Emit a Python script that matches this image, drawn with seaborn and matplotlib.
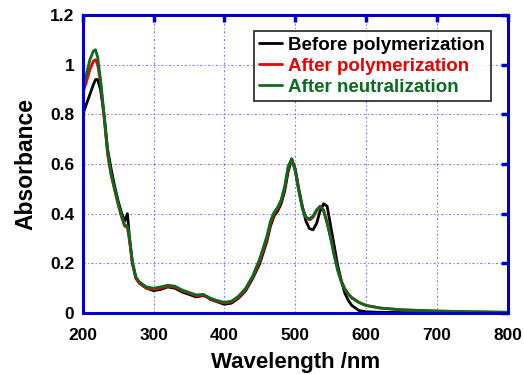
import numpy as np
import pandas as pd
import matplotlib
matplotlib.use("Agg")
import matplotlib.pyplot as plt
import seaborn as sns

# UV-vis absorption spectra
wavelength = [200, 205, 210, 215, 218, 221, 225, 230, 235, 240, 245, 250, 255, 259,
              263, 266, 270, 275, 280, 290, 300, 310, 320, 330, 340, 350, 360, 370,
              375, 380, 390, 400, 410, 420, 430, 440, 450, 460, 465, 470, 475, 480,
              485, 490, 495, 500, 505, 510, 515, 520, 525, 530, 535, 540, 545, 550,
              555, 560, 565, 570, 575, 580, 590, 600, 620, 650, 700, 750, 800]

before_poly = [0.80, 0.84, 0.88, 0.92, 0.94, 0.94, 0.90, 0.80, 0.66, 0.58, 0.51, 0.45,
               0.40, 0.37, 0.40, 0.30, 0.20, 0.14, 0.12, 0.10, 0.09, 0.095, 0.105, 0.10,
               0.085, 0.075, 0.065, 0.07, 0.065, 0.055, 0.045, 0.035, 0.04, 0.06, 0.09,
               0.14, 0.20, 0.29, 0.35, 0.39, 0.41, 0.44, 0.49, 0.57, 0.62, 0.58, 0.50,
               0.43, 0.37, 0.34, 0.335, 0.36, 0.41, 0.44, 0.43, 0.35, 0.27, 0.19, 0.13,
               0.08, 0.05, 0.03, 0.01, 0.005, 0.003, 0.002, 0.001, 0.001, 0.0]

after_poly = [0.886, 0.93, 0.98, 1.015, 1.02, 1.0, 0.93, 0.79, 0.64, 0.555, 0.495, 0.435,
              0.385, 0.35, 0.345, 0.29, 0.20, 0.14, 0.12, 0.10, 0.095, 0.10, 0.108, 0.104,
              0.09, 0.08, 0.07, 0.072, 0.065, 0.057, 0.047, 0.04, 0.045, 0.063, 0.095,
              0.145, 0.21, 0.30, 0.36, 0.40, 0.42, 0.45, 0.50, 0.585, 0.62, 0.575, 0.495,
              0.425, 0.385, 0.375, 0.385, 0.41, 0.43, 0.415, 0.365, 0.305, 0.235, 0.175,
              0.13, 0.098, 0.077, 0.062, 0.043, 0.031, 0.02, 0.013, 0.008, 0.005, 0.003]

after_neut = [0.905, 0.96, 1.02, 1.055, 1.06, 1.03, 0.94, 0.80, 0.65, 0.56, 0.50, 0.44,
              0.39, 0.355, 0.35, 0.30, 0.21, 0.145, 0.125, 0.105, 0.10, 0.105, 0.112, 0.108,
              0.093, 0.083, 0.073, 0.075, 0.068, 0.06, 0.05, 0.043, 0.048, 0.068, 0.10,
              0.15, 0.22, 0.31, 0.37, 0.405, 0.425, 0.455, 0.51, 0.59, 0.62, 0.57, 0.49,
              0.42, 0.385, 0.38, 0.39, 0.415, 0.43, 0.41, 0.36, 0.30, 0.23, 0.17, 0.125,
              0.095, 0.075, 0.06, 0.042, 0.03, 0.02, 0.013, 0.008, 0.005, 0.003]

labels = ["Before polymerization", "After polymerization", "After neutralization"]
colors = ["#000000", "#ee0000", "#0b6b20"]

x_ticks = [200, 300, 400, 500, 600, 700, 800]
y_ticks = [0, 0.2, 0.4, 0.6, 0.8, 1.0, 1.2]
y_tick_labels = ["0", "0.2", "0.4", "0.6", "0.8", "1", "1.2"]

df = pd.concat([
    pd.DataFrame({"Wavelength": wavelength, "Absorbance": vals, "Sample": name})
    for name, vals in zip(labels, [before_poly, after_poly, after_neut])
], ignore_index=True)

sns.set_style("white")
plt.rcParams["font.family"] = ["Liberation Sans", "DejaVu Sans"]
plt.rcParams["font.weight"] = "bold"
plt.rcParams["text.color"] = "black"
plt.rcParams["axes.labelcolor"] = "black"
plt.rcParams["xtick.labelcolor"] = "black"
plt.rcParams["ytick.labelcolor"] = "black"

fig = plt.figure(figsize=(5.24, 3.74), dpi=100)
ax = fig.add_axes([0.158, 0.163, 0.811, 0.797])

sns.lineplot(data=df, x="Wavelength", y="Absorbance", hue="Sample",
             hue_order=labels, palette=dict(zip(labels, colors)),
             linewidth=2.0, estimator=None, sort=False, ax=ax)

ax.set_xlim(200, 800)
ax.set_ylim(0, 1.2)
ax.set_xticks(x_ticks)
ax.set_xticklabels([str(t) for t in x_ticks], fontsize=12.5, fontweight="bold",
                   color="black")
ax.set_yticks(y_ticks)
ax.set_yticklabels(y_tick_labels, fontsize=12.5, fontweight="bold", color="black")

blue = "#0000cc"
for side in ["left", "right", "top", "bottom"]:
    ax.spines[side].set_visible(True)
    ax.spines[side].set_color(blue)
    ax.spines[side].set_linewidth(2.2)
ax.tick_params(axis="both", which="major", direction="in", length=5, width=2.5,
               color=blue, top=True, right=True)
ax.tick_params(axis="x", pad=11)
ax.tick_params(axis="y", pad=6)

ax.grid(True, color="#4a4ae0", linestyle=(0, (2, 2, 1, 2)), linewidth=0.8, alpha=0.7)
ax.set_axisbelow(True)

ax.set_xlabel("Wavelength /nm", fontsize=16, fontweight="bold", labelpad=6,
              color="black")
ax.set_ylabel("Absorbance", fontsize=16.5, fontweight="bold", labelpad=9,
              color="black")

leg = ax.legend(loc="upper right", bbox_to_anchor=(0.96, 0.946), borderaxespad=0,
                frameon=True, fancybox=False, prop={"size": 13.5, "weight": "bold"},
                handlelength=1.2, handletextpad=0.35, labelspacing=0.2, borderpad=0.3)
leg.get_frame().set_edgecolor("black")
leg.get_frame().set_linewidth(1.3)
for txt, c in zip(leg.get_texts(), colors):
    txt.set_color(c)
for ln in leg.get_lines():
    ln.set_linewidth(2.0)

fig.savefig("out.png", dpi=100)
